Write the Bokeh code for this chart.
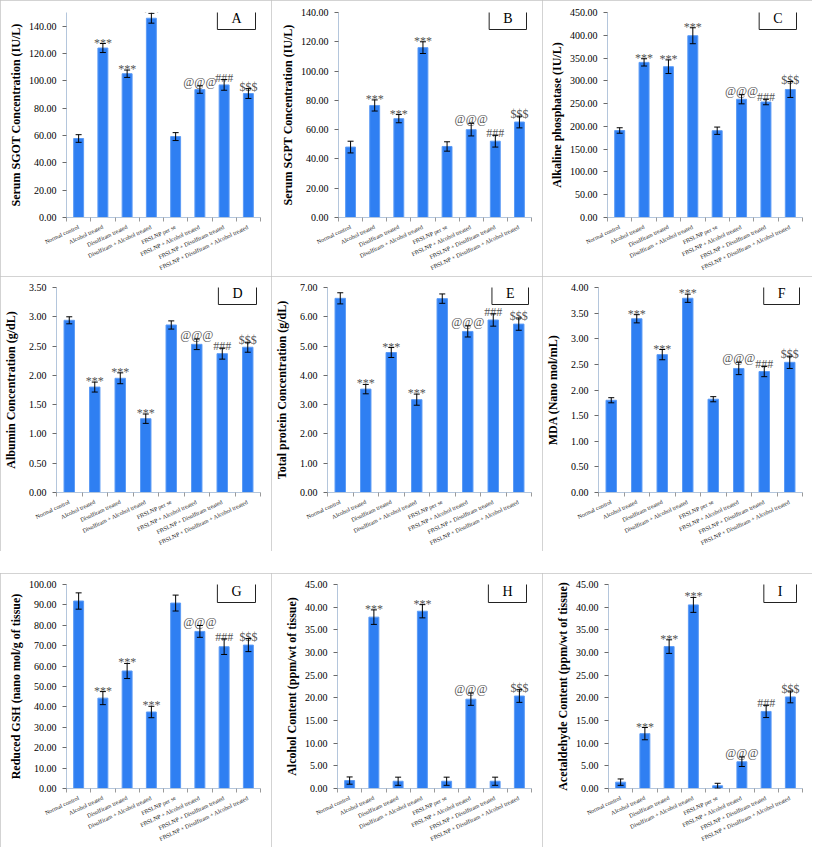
from bokeh.plotting import figure
from bokeh.models import (ColumnDataSource, Whisker, TeeHead, FixedTicker,
                          PrintfTickFormatter, Label, Range1d, Spacer)
from bokeh.layouts import column, row
from bokeh.core.properties import value
from bokeh.embed import file_html
from bokeh.resources import INLINE

groups = ["Normal control", "Alcohol treated", "Disulfiram treated",
          "Disulfiram + Alcohol treated", "FBSLNP per se",
          "FBSLNP + Alcohol treated", "FBSLNP + Disulfiram treated",
          "FBSLNP + Disulfiram + Alcohol treated"]

marks_std = ["", "***", "***", "***", "", "@@@", "###", "$$$"]
marks_h = ["", "***", "", "***", "", "@@@", "", "$$$"]

sgot_mean = [57.8, 124.0, 105.2, 145.8, 59.2, 93.6, 97.0, 90.7]
sgot_sem = [2.8, 3.3, 2.7, 3.6, 2.9, 2.7, 3.9, 3.6]
sgot_ticks = [0, 20, 40, 60, 80, 100, 120, 140]

sgpt_mean = [48.1, 76.5, 67.5, 116.0, 48.5, 60.0, 52.1, 65.2]
sgpt_sem = [4.0, 3.8, 2.8, 4.0, 3.2, 4.3, 4.0, 4.0]
sgpt_ticks = [0, 20, 40, 60, 80, 100, 120, 140]

alp_mean = [191.0, 340.5, 331.0, 399.0, 190.5, 259.5, 253.5, 281.0]
alp_sem = [6.0, 8.0, 15.0, 17.5, 8.0, 10.0, 6.0, 17.5]
alp_ticks = [0, 50, 100, 150, 200, 250, 300, 350, 400, 450]

alb_mean = [2.94, 1.80, 1.95, 1.26, 2.86, 2.53, 2.37, 2.48]
alb_sem = [0.06, 0.085, 0.093, 0.08, 0.07, 0.09, 0.093, 0.085]
alb_ticks = [0, 0.5, 1.0, 1.5, 2.0, 2.5, 3.0, 3.5]

tp_mean = [6.63, 3.53, 4.78, 3.17, 6.62, 5.50, 5.89, 5.75]
tp_sem = [0.19, 0.16, 0.17, 0.19, 0.16, 0.19, 0.21, 0.21]
tp_ticks = [0, 1, 2, 3, 4, 5, 6, 7]

mda_mean = [1.80, 3.39, 2.69, 3.79, 1.82, 2.42, 2.36, 2.54]
mda_sem = [0.05, 0.08, 0.10, 0.08, 0.05, 0.12, 0.10, 0.12]
mda_ticks = [0, 0.5, 1.0, 1.5, 2.0, 2.5, 3.0, 3.5, 4.0]

gsh_mean = [91.9, 44.3, 57.6, 37.5, 90.9, 77.0, 69.5, 70.3]
gsh_sem = [4.0, 3.2, 3.7, 2.8, 3.9, 2.9, 3.8, 3.2]
gsh_ticks = [0, 10, 20, 30, 40, 50, 60, 70, 80, 90, 100]

alc_mean = [1.75, 37.8, 1.6, 39.1, 1.6, 19.7, 1.6, 20.4]
alc_sem = [0.8, 1.6, 0.9, 1.46, 0.9, 1.35, 0.9, 1.4]
alc_ticks = [0, 5, 10, 15, 20, 25, 30, 35, 40, 45]

ace_mean = [1.4, 12.1, 31.3, 40.5, 0.6, 5.9, 17.0, 20.2]
ace_sem = [0.7, 1.35, 1.5, 1.65, 0.55, 1.05, 1.35, 1.3]
ace_ticks = [0, 5, 10, 15, 20, 25, 30, 35, 40, 45]

SERIF = "Liberation Serif"
BAR = "#2f7ff2"
AXIS = "#b4c6dc"


def make_panel(letter, ylabel, mean, sem, marks, ticks, ymax,
               width, height, left, top, bottom, lab_stand):
    right = width - 260
    fw = width - left - right
    fh = height - top - bottom
    n = len(groups)
    xs = list(range(1, n + 1))
    upper = [m + s for m, s in zip(mean, sem)]
    lower = [m - s for m, s in zip(mean, sem)]
    yoff = [-1 if t == "***" else (-4 if t == "@@@" else -2) for t in marks]
    src = ColumnDataSource(dict(x=xs, mean=mean, upper=upper, lower=lower,
                                mark=marks, yoff=yoff))
    p = figure(width=width, height=height, output_backend="svg", toolbar_location=None,
               x_range=Range1d(0.5, n + 0.5), y_range=Range1d(0, ymax),
               min_border_left=left, min_border_right=right,
               min_border_top=top, min_border_bottom=bottom)
    p.outline_line_color = None
    p.grid.visible = False
    p.background_fill_color = "white"
    p.border_fill_color = "white"
    p.styles = {"outline": "1px solid #c4c4c4", "outline-offset": "-1px"}

    p.vbar(x="x", top="mean", width=0.41, source=src,
           fill_color=BAR, line_color="#5c9bf5", line_width=1)
    w = Whisker(base="x", upper="upper", lower="lower", source=src,
                line_color="black", line_width=1, level="annotation",
                upper_head=TeeHead(size=6, line_color="black", line_width=1),
                lower_head=TeeHead(size=6, line_color="black", line_width=1))
    p.add_layout(w)
    p.text(x="x", y="upper", text="mark", source=src, text_align="center",
           text_baseline="alphabetic", y_offset="yoff",
           text_font=value(SERIF), text_font_size="12px", text_color="#555555")

    xa = p.xaxis[0]
    xa.ticker = FixedTicker(ticks=xs, minor_ticks=[i + 0.5 for i in range(n + 1)])
    xa.major_label_overrides = {i: g for i, g in zip(xs, groups)}
    xa.major_label_orientation = 0.44
    xa.major_label_text_font = SERIF
    xa.major_label_text_font_size = "6px"
    xa.major_label_text_color = "#222222"
    xa.major_label_standoff = 5
    xa.major_tick_line_color = None
    xa.major_tick_out = 4
    xa.major_tick_in = 0
    xa.minor_tick_line_color = "#9a9a9a"
    xa.minor_tick_out = 4
    xa.minor_tick_in = 0
    xa.axis_line_color = AXIS

    ya = p.yaxis[0]
    ya.ticker = FixedTicker(ticks=ticks, minor_ticks=[])
    ya.formatter = PrintfTickFormatter(format="%.2f")
    ya.major_label_text_font = SERIF
    ya.major_label_text_font_size = "10px"
    ya.major_label_text_color = "black"
    ya.major_label_standoff = 6
    ya.major_tick_out = 4
    ya.major_tick_in = 0
    ya.major_tick_line_color = "#6a6a6a"
    ya.minor_tick_line_color = None
    ya.axis_line_color = AXIS
    ya.axis_label = ylabel
    ya.axis_label_text_font = SERIF
    ya.axis_label_text_font_style = "bold"
    ya.axis_label_text_font_size = "12px"
    ya.axis_label_text_color = "black"
    ya.axis_label_standoff = lab_stand

    # letter box in the panel's top-right corner (padding grows outward from the text)
    pad_x, pad_y = 14, 4
    lab = Label(x=fw + right - 2 - pad_x, y=fh + top - 3 - pad_y,
                x_units="screen", y_units="screen",
                text=letter, text_align="right", text_baseline="top",
                text_font=SERIF, text_font_size="14px", text_color="black",
                border_line_color="#222222", border_line_width=1,
                background_fill_color="white",
                padding=dict(left=pad_x, right=pad_x, top=pad_y, bottom=pad_y))
    p.add_layout(lab)
    return p


W1, W2, W3 = 271, 271, 270
H1, H2, H3 = 276, 275, 274
pA = make_panel("A", "Serum SGOT Concentration (IU/L)", sgot_mean, sgot_sem, marks_std, sgot_ticks, 150, W1, H1, 66, 12, 58, 3)
pB = make_panel("B", "Serum SGPT Concentration (IU/L)", sgpt_mean, sgpt_sem, marks_std, sgpt_ticks, 140, W2, H1, 67, 12, 58, 3)
pC = make_panel("C", "Alkaline phosphatase (IU/L)", alp_mean, alp_sem, marks_std, alp_ticks, 450, W3, H1, 65, 12, 58, 3)
pD = make_panel("D", "Albumin Concentration (g/dL)", alb_mean, alb_sem, marks_std, alb_ticks, 3.5, W1, H2, 55, 11, 57, 8)
pE = make_panel("E", "Total protein Concentration (g/dL)", tp_mean, tp_sem, marks_std, tp_ticks, 7, W2, H2, 54, 11, 57, 8)
pF = make_panel("F", "MDA (Nano mol/mL)", mda_mean, mda_sem, marks_std, mda_ticks, 4, W3, H2, 53, 11, 57, 8)
pG = make_panel("G", "Reduced GSH (nano mol/g of tissue)", gsh_mean, gsh_sem, marks_std, gsh_ticks, 100, W1, H3, 66, 11, 58, 3)
pH = make_panel("H", "Alcohol Content (ppm/wt of tissue)", alc_mean, alc_sem, marks_h, alc_ticks, 45, W2, H3, 66, 11, 58, 3)
pI = make_panel("I", "Acetaldehyde Content (ppm/wt of tissue)", ace_mean, ace_sem, marks_std, ace_ticks, 45, W3, H3, 66, 11, 58, 3)

layout = column(row(pA, pB, pC), row(pD, pE, pF), Spacer(height=22), row(pG, pH, pI))

with open("out.html", "w") as f:
    f.write(file_html(layout, INLINE))
